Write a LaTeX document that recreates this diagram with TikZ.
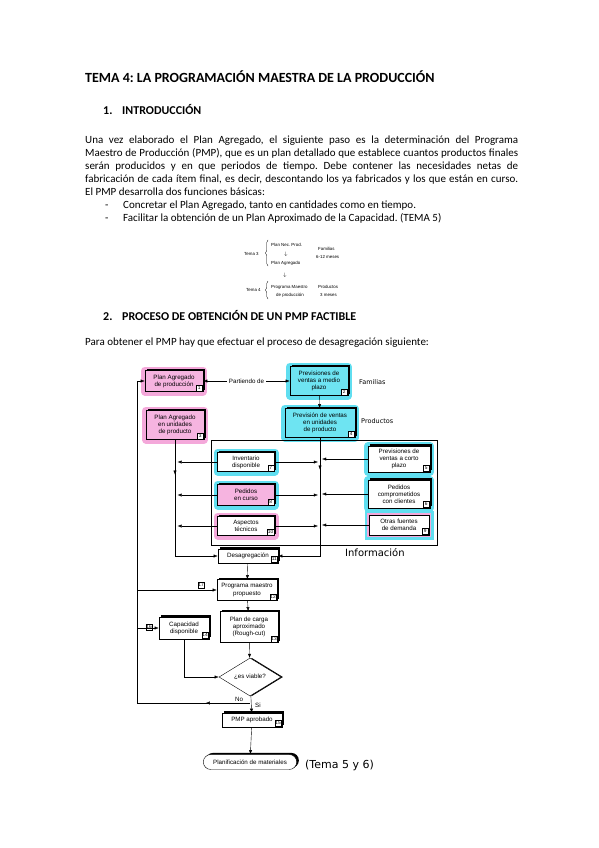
\documentclass[tikz,border=0pt]{standalone}
\usepackage{fontspec}
\setmainfont{Carlito}
\newfontfamily\chartfont{Liberation Sans}
\newfontfamily\handfont{DejaVu Sans}
\usetikzlibrary{shapes.geometric,shapes.misc,shadows,calc,arrows.meta,decorations.markings,decorations.pathreplacing}
\frenchspacing

\definecolor{hlpink}{RGB}{244,168,218}
\definecolor{hlcyan}{RGB}{96,222,240}
\definecolor{fillpink}{RGB}{246,180,224}
\definecolor{fillcyan}{RGB}{110,228,242}

\tikzset{
  >={Latex[length=4.2pt,width=3.2pt]},
  box/.style={draw, fill=white, align=center, inner sep=1pt,
    font=\chartfont\fontsize{6.2}{7.1}\selectfont,
    drop shadow={shadow xshift=1.6pt, shadow yshift=1.6pt, fill=black, opacity=1}},
  tagbox/.style={draw, fill=white, inner sep=0.4pt, minimum size=5.8pt,
    font=\chartfont\fontsize{4.8}{5}\selectfont},
  pinkglow/.style={preaction={draw=hlpink, line width=8pt, line join=round}},
  cyanglow/.style={preaction={draw=hlcyan, line width=8pt, line join=round}},
  hand/.style={font=\handfont\fontsize{#1}{#1}\selectfont, inner sep=0pt},
  sketch/.style={font=\chartfont\fontsize{4.4}{5}\selectfont, inner sep=0pt, anchor=base west},
  midarrow/.style={postaction={decorate},
    decoration={markings, mark=at position #1 with {\arrow{>}}}}
}
\newcommand\numtag[2]{\node[tagbox, anchor=south east] (#1-tag) at ([shift={(-0.8,-0.8)}]#1.south east) {#2};}

\begin{document}
\begin{tikzpicture}[x=1pt,y=-1pt]
\useasboundingbox[fill=white] (0,0) rectangle (599,848);

% texto
\node[anchor=base west, inner sep=0pt, font=\fontsize{14}{16}\bfseries] (titulo) at (85,83) {TEMA 4: LA PROGRAMACIÓN MAESTRA DE LA PRODUCCIÓN};
\node[anchor=base west, inner sep=0pt, font=\fontsize{12}{14}\bfseries] (sec1n) at (103,115) {1.};
\node[anchor=base west, inner sep=0pt, font=\fontsize{12}{14}\bfseries] (sec1) at (122,115) {INTRODUCCIÓN};
\node[anchor=base west, inner sep=0pt, text width=433pt, align=justify, font=\fontsize{11}{13.1}\selectfont] (intro) at (85,143)
 {Una vez elaborado el Plan Agregado, el siguiente paso es la determinación del Programa\linebreak
  Maestro de Producción (PMP), que es un plan detallado que establece cuantos productos finales\linebreak
  serán producidos y en que periodos de tiempo. Debe contener las necesidades netas de\linebreak
  fabricación de cada ítem final, es decir, descontando los ya fabricados y los que están en curso.\linebreak
  El PMP desarrolla dos funciones básicas:};
\foreach \y/\txt [count=\i] in {208/{Concretar el Plan Agregado, tanto en cantidades como en tiempo.},
    221/{Facilitar la obtención de un Plan Aproximado de la Capacidad. (TEMA 5)}}{
  \node[anchor=base west, inner sep=0pt, font=\fontsize{11}{13}\selectfont] (guion\i) at (105,\y) {-};
  \node[anchor=base west, inner sep=0pt, font=\fontsize{11}{13}\selectfont] (funcion\i) at (123,\y) {\txt};
}

% esquema a mano
\node[sketch] (s1) at (244,255) {Tema 3};
\draw[decorate, decoration={brace, amplitude=2.5pt}] (268,266) -- (268,240);
\node[sketch] (s2) at (271,246) {Plan Nec. Prod.};
\node[sketch] (s3) at (284,255) {$\downarrow$};
\node[sketch] (s4) at (271,264) {Plan Agregado};
\node[sketch] (s5) at (318,250) {Familias};
\node[sketch] (s6) at (316,258) {6-12 meses};
\node[sketch] (s7) at (283,276) {$\downarrow$};
\node[sketch] (s8) at (246,291) {Tema 4};
\node[sketch] (s9) at (271,288) {Programa Maestro};
\draw[decorate, decoration={brace, amplitude=2.5pt}] (268,299) -- (268,281);
\node[sketch] (s10) at (276,296) {de producción};
\node[sketch] (s11) at (318,288) {Productos};
\node[sketch] (s12) at (320,296) {3 meses};

\node[anchor=base west, inner sep=0pt, font=\fontsize{12}{14}\bfseries] (sec2n) at (103,320) {2.};
\node[anchor=base west, inner sep=0pt, font=\fontsize{12}{14}\bfseries] (sec2) at (122,320) {PROCESO DE OBTENCIÓN DE UN PMP FACTIBLE};
\node[anchor=base west, inner sep=0pt, font=\fontsize{11}{13}\selectfont] (para) at (85,345) {Para obtener el PMP hay que efectuar el proceso de desagregación siguiente:};

% diagrama
\node[pinkglow, box, fill=fillpink, minimum width=58pt, minimum height=21pt] (pagr) at (174,381) {Plan Agregado\\de producción};
\node[cyanglow, box, fill=fillcyan, minimum width=58pt, minimum height=29pt] (pvmp) at (319,381) {Previsiones de\\ventas a medio\\plazo};
\node[pinkglow, box, fill=fillpink, minimum width=58pt, minimum height=29pt] (pauni) at (175,425) {Plan Agregado\\en unidades\\de producto};
\node[cyanglow, box, fill=fillcyan, minimum width=70pt, minimum height=29pt] (pvuni) at (320,423) {Previsión de ventas\\en unidades\\de producto};

\draw (211,440) rectangle (437,545);
\node[cyanglow, box, minimum width=57pt, minimum height=19pt] (inv) at (246,462) {Inventario\\disponible};
\node[cyanglow, box, fill=fillpink, minimum width=57pt, minimum height=21pt] (pcur) at (246,495) {Pedidos\\en curso};
\node[pinkglow, box, minimum width=57pt, minimum height=19pt] (asp) at (246,526) {Aspectos\\técnicos};
\node[cyanglow, box, minimum width=62pt, minimum height=26pt] (pvcp) at (399,459) {Previsiones de\\ventas a corto\\plazo};
\node[cyanglow, box, minimum width=62pt, minimum height=28pt] (pcom) at (399,494) {Pedidos\\comprometidos\\con clientes};
\node[cyanglow, pinkglow, box, minimum width=60pt, minimum height=20pt, preaction={draw=hlcyan, line width=9pt}, preaction={draw=hlpink, line width=4pt}] (otras) at (399,525) {Otras fuentes\\de demanda};

\node[box, minimum width=60pt, minimum height=14pt] (desag) at (248,556) {Desagregación};
\node[box, minimum width=60pt, minimum height=21pt] (pmprop) at (247,590) {Programa maestro\\propuesto};
\node[box, minimum width=58pt, minimum height=31pt] (carga) at (249,627) {Plan de carga\\aproximado\\(Rough-cut)};
\node[box, minimum width=50pt, minimum height=22pt] (capac) at (184,628) {Capacidad\\disponible};
\node[diamond, draw, fill=white, aspect=1.6, minimum width=62pt, minimum height=38pt, inner sep=0pt,
  font=\chartfont\fontsize{6.2}{7.1}\selectfont,
  drop shadow={shadow xshift=2pt, shadow yshift=0pt, fill=black, opacity=1}] (viable) at (250,677) {¿es viable?};
\node[box, minimum width=60pt, minimum height=14pt] (pmpap) at (252,720) {PMP aprobado};
\node[rounded rectangle, draw, fill=white, minimum width=100pt, minimum height=15pt,
  font=\chartfont\fontsize{6.2}{7.1}\selectfont,
  drop shadow={shadow xshift=2.2pt, shadow yshift=1.6pt, fill=black, opacity=1}] (planif) at (250,762) {Planificación de materiales};

\numtag{pagr}{1} \numtag{pvmp}{2} \numtag{pauni}{3} \numtag{pvuni}{4}
\numtag{pvcp}{5} \numtag{pcom}{6} \numtag{inv}{7} \numtag{pcur}{8}
\numtag{otras}{9} \numtag{asp}{10} \numtag{desag}{11} \numtag{pmprop}{12}
\numtag{carga}{13} \numtag{capac}{14} \numtag{pmpap}{15}
\node[tagbox] (t17) at (201,585) {17};
\node[tagbox] (t16) at (149,627) {16};

% conexiones
\draw[<->] (pagr) -- node[fill=white, inner sep=1.5pt, font=\chartfont\fontsize{6.2}{7}\selectfont] (partiendo) {Partiendo de} (pvmp);
\draw[->] (pvmp) -- (pvuni);
\draw[->, midarrow=0.22] (pauni.south) |- (desag.west);
\draw[->, midarrow=0.2] (pvuni.south) |- (desag.east);
\foreach \b in {inv,pcur,asp}{
  \draw[->, shorten >=2.5pt] (\b) -- (pauni.south |- \b);
  \draw[->, shorten >=2pt] (\b) -- (pvuni.south |- \b);
}
\foreach \b in {pvcp,pcom,otras}{
  \draw[->, shorten >=2pt] (\b) -- (pvuni.south |- \b);
}
\draw[->] (desag) -- (pmprop);
\draw[->] (pmprop) -- (carga);
\draw[->] (carga) -- (viable);
\draw[->] (capac.south) |- (viable.west);
\draw[->] (viable) -- (pmpap);
\draw[->] (pmpap) -- (planif);
\coordinate (fb) at (137,703);
\coordinate (nosplit) at (viable.south |- fb);
\draw[->, midarrow=0.1] (nosplit) -- (fb) |- (pagr.west);
\draw[->] (fb |- pmprop) -- (pmprop);
\draw[->] (fb |- capac) -- (capac);
\node[font=\chartfont\fontsize{6.2}{7}\selectfont, anchor=base] (no) at (239,701) {No};
\node[font=\chartfont\fontsize{6.2}{7}\selectfont, anchor=base] (si) at (258,707) {Si};

% notas a mano
\node[hand=6.5, anchor=west] (familias) at (359,382) {Familias};
\node[hand=6.5, anchor=west] (productos) at (361,421) {Productos};
\node[hand=10, anchor=west] (informacion) at (345,553) {Información};
\node[hand=11, anchor=west] (tema56) at (305,765) {(Tema 5 y 6)};
\end{tikzpicture}
\end{document}
